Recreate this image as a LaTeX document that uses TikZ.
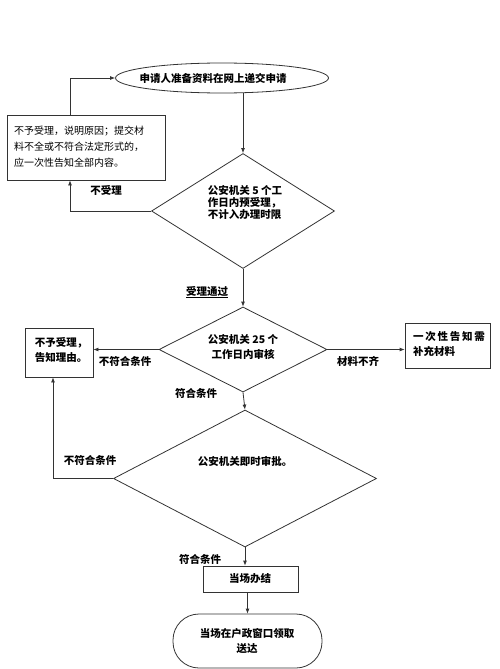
\documentclass[tikz,border=0pt]{standalone}
\usepackage{fontspec}
\setmainfont{Noto Sans CJK SC}
\usetikzlibrary{shapes.geometric,arrows.meta}
\tikzset{
  ln/.style={draw=black!80, line width=0.8pt},
  arr/.style={ln, -{Latex[length=5pt,width=4pt]}},
  box/.style={draw=black!80, line width=0.8pt, rectangle, inner sep=0pt},
  dia/.style={draw=black!80, line width=0.8pt, diamond, inner sep=0pt},
  bt/.style={font=\fontsize{10.5}{15}\selectfont\bfseries, inner sep=0pt},
  nt/.style={font=\fontsize{10}{16}\selectfont, inner sep=0pt, align=left},
}
\begin{document}
\begin{tikzpicture}[x=1pt,y=-1pt]
\useasboundingbox (0,0) rectangle (500,669);
% shapes
\node[draw=black!80, line width=0.8pt, ellipse, minimum width=213pt, minimum height=30pt, inner sep=0pt] (e) at (222,78) {};
\node[bt] (et) at (213,78) {申请人准备资料在网上递交申请};
\node[box, minimum width=158pt, minimum height=65pt] (b1) at (86,147.5) {};
\node[nt, anchor=west] (b1t) at (14,146.5) {不予受理，说明原因；提交材\\料不全或不符合法定形式的，\\应一次性告知全部内容。};
\node[dia, minimum width=183pt, minimum height=115pt] (d1) at (243,211) {};
\node[bt, align=left] (d1t) at (245,203) {公安机关 5 个工\\[-3pt]作日内预受理，\\[-3pt]不计入办理时限};
\node[dia, minimum width=168pt, minimum height=85pt] (d2) at (243,349.5) {};
\node[bt, align=center] (d2t) at (243,347) {公安机关 25 个\\工作日内审核};
\node[box, minimum width=68pt, minimum height=49pt] (b2) at (59,352.5) {};
\node[bt, align=left] (b2t) at (61,349.5) {不予受理，\\告知理由。};
\node[box, minimum width=85pt, minimum height=45pt] (b3) at (447.5,345.5) {};
\node[bt, align=left, anchor=west] (b3t) at (413,344.5) {一\,次\,性\,告\,知\,需\\补充材料};
\node[dia, minimum width=263pt, minimum height=137pt] (d3) at (245,478.5) {};
\node[bt] (d3t) at (245,461) {公安机关即时审批。};
\node[box, minimum width=95pt, minimum height=26pt] (b4) at (250.5,579) {};
\node[bt] (b4t) at (250,579) {当场办结};
\node[draw=black!80, line width=0.8pt, rectangle, rounded corners=26pt, minimum width=149pt, minimum height=54pt, inner sep=0pt] (t) at (247.5,641) {};
\node[bt, align=center] (tt) at (247,641) {当场在户政窗口领取\\送达};
% helper coordinates
\coordinate (k1) at (70,211);
\coordinate (k2) at (53,478.5);
% connectors
\draw[arr] (d1.north |- e.south) -- (d1.north);
\draw[arr] (d1.west) -- (k1) -- (k1 |- b1.south);
\draw[arr] (k1 |- b1.north) |- (e.west);
\draw[arr] (d1.south) -- (d2.north);
\draw[arr] (d2.west) -- (b2.east |- d2.west);
\draw[arr] (d2.east) -- (b3.west |- d2.east);
\draw[arr] (d2.south) -- (d3.north);
\draw[arr] (d3.west) -- (k2) -- (k2 |- b2.south);
\draw[arr] (d3.south) -- (d3.south |- b4.north);
\draw[arr] (b4.south -| t.north) -- (t.north);
% labels
\node[bt] (l1) at (106,190) {不受理};
\node[bt] (l2) at (207,292) {\underline{受理通过}};
\node[bt] (l3) at (125,361) {不符合条件};
\node[bt] (l4) at (358,361) {材料不齐};
\node[bt] (l5) at (196,393) {符合条件};
\node[bt] (l6) at (90,460) {不符合条件};
\node[bt] (l7) at (200,559) {符合条件};
\end{tikzpicture}
\end{document}
